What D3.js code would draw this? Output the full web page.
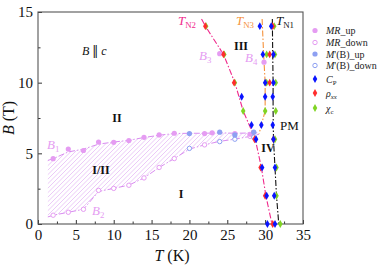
<!DOCTYPE html>
<html>
<head>
<meta charset="utf-8">
<script src="https://cdn.jsdelivr.net/npm/d3@7"></script>
<style>
  body { margin: 0; background: #fff; }
  text { font-family: "Liberation Serif", "Times New Roman", serif; }
</style>
</head>
<body>
<svg id="chart" width="381" height="266"></svg>
<script>
// ---- data ----
const mrUpT = [2, 4, 6, 8, 10, 12, 14, 16, 18, 22, 23, 26, 28, 24, 29.85];
const mrUpB = [4.62, 5.3, 5.2, 5.8, 5.78, 5.9, 6.13, 6.3, 6.42, 6.4, 6.45, 6.4, 6.35, 12.05, 11.45];
const mrDownT = [2, 4, 6, 8, 10, 12, 14, 16, 18, 22, 28];
const mrDownB = [0.62, 0.83, 1.04, 2.38, 2.52, 2.74, 3.26, 4.0, 4.63, 5.6, 6.2];
const mUpT = [20, 24, 26, 28.5];
const mUpB = [6.4, 6.5, 6.3, 6.5];
const mDownT = [20, 24, 26, 28.5];
const mDownB = [5.35, 5.83, 6.0, 6.15];
const cpT = [26.9, 28.2, 28.8, 29.6, 30.2, 30.3, 29.3, 29.7, 30.0, 30.0, 29.5, 30.8, 31.1, 31.1, 31.0, 31.0, 31.1, 31.3, 31.2, 31.3];
const cpB = [9, 7, 6, 4, 2, 0, 14, 12, 10, 9, 7, 14, 12, 10, 9, 7, 6, 4, 2, 0];
const rhoT = [22.1, 24.5, 25.9, 28.6, 29.4, 30.0, 31.0, 30.6, 30.6, 31.0, 31.1];
const rhoB = [14, 12, 10, 6, 4, 2, 0, 12, 10, 14, 6];
const chiT = [22.2, 24.6, 26.0, 27.1, 30.2, 30.2, 30.0, 31.3, 31.4, 31.4, 31.3, 31.5, 31.5, 32.0, 31.2];
const chiB = [14, 12, 10, 8, 12, 10, 8, 12, 10, 8, 6, 4, 2, 0, 14];

// phase boundaries
const b1T = [1.3, 2, 4, 6, 8, 10, 12, 14, 16, 18, 20, 22, 24, 26, 29.2];
const b1B = [4.5, 4.62, 5.1, 5.3, 5.65, 5.8, 5.92, 6.12, 6.28, 6.4, 6.42, 6.42, 6.45, 6.42, 6.45];
const b2T = [1.3, 2, 4, 6, 8, 10, 12, 14, 16, 18, 20, 22, 24, 26, 28, 29.2];
const b2B = [0.5, 0.62, 0.83, 1.04, 2.3, 2.52, 2.75, 3.26, 4.0, 4.63, 5.3, 5.6, 5.85, 6.0, 6.2, 6.35];
const tn2T = [21.6, 22.1, 24.5, 26.0, 27.1, 28.7, 29.5, 30.1, 30.9];
const tn2B = [14.5, 14, 12, 10, 8, 6, 4, 2, 0];
const tn3T = [29.6, 29.8, 30.0, 30.0, 29.2];
const tn3B = [14.5, 12, 10, 8, 6.4];
const tn1T = [30.95, 31.0, 31.05, 31.05, 31.1, 31.3, 31.5, 31.8];
const tn1B = [14.5, 12, 10, 8, 6, 4, 2, 0];

const xTicks = [0, 5, 10, 15, 20, 25, 30, 35];
const yTicks = [0, 5, 10, 15];

const violet = "#e59cf2", lightBlue = "#8ea0f2", cpCol = "#0a14ff",
      rhoCol = "#ff2d2d", chiCol = "#80d424", tn2Col = "#f02a8c", tn3Col = "#f5923c";

const svg = d3.select("#chart");
const x = d3.scaleLinear().domain([0, 35]).range([38, 303]);
const y = d3.scaleLinear().domain([0, 15]).range([224, 12]);
const pts = (ts, bs) => ts.map((t, i) => [t, bs[i]]);
const line = d3.line().x(d => x(d[0])).y(d => y(d[1]));

// hatched I/II region: diagonal lines clipped to the area between B1 and B2
const area = pts(b1T, b1B).concat(pts(b2T, b2B).reverse());
svg.append("defs").append("clipPath").attr("id", "hclip")
  .append("path").attr("d", line(area) + "Z");
const hatch = svg.append("g").attr("clip-path", "url(#hclip)");
d3.range(-60, 300, 4.5).forEach(s => {
  hatch.append("line").attr("x1", s).attr("y1", 224).attr("x2", s + 100).attr("y2", 124)
    .attr("stroke", "#e6bdf5").attr("stroke-width", 0.8);
});

// axes (inward ticks)
svg.append("g").attr("transform", "translate(0,224)")
  .call(d3.axisBottom(x).tickValues(xTicks).tickSize(-4).tickPadding(5));
svg.append("g").attr("transform", "translate(0,224)")
  .call(d3.axisBottom(x).tickValues(d3.range(2.5, 35, 5)).tickSize(-2.5).tickFormat(""));
svg.append("g").attr("transform", "translate(38,0)")
  .call(d3.axisLeft(y).tickValues(yTicks).tickSize(-4).tickPadding(5));
svg.append("g").attr("transform", "translate(38,0)")
  .call(d3.axisLeft(y).tickValues([2.5, 7.5, 12.5]).tickSize(-2.5).tickFormat(""));
svg.selectAll(".domain").remove();
svg.selectAll(".tick line").attr("stroke", "#333");
svg.selectAll(".tick text").attr("font-size", 15).attr("fill", "#111")
  .attr("font-family", "Liberation Serif");
svg.append("rect").attr("x", 38).attr("y", 12).attr("width", 265).attr("height", 212)
  .attr("fill", "none").attr("stroke", "#555").attr("stroke-width", 1.1);

// boundary lines
const dashDot = "6,2,1.5,2";
function drawLine(ts, bs, col, w) {
  svg.append("path").attr("d", line(pts(ts, bs))).attr("fill", "none")
    .attr("stroke", col).attr("stroke-width", w).attr("stroke-dasharray", dashDot);
}
drawLine(b1T, b1B, "#d98cf0", 1);
drawLine(b2T, b2B, "#d98cf0", 1);
drawLine(tn2T, tn2B, tn2Col, 1.1);
drawLine(tn3T, tn3B, tn3Col, 1.1);
drawLine(tn1T, tn1B, "#111", 1.1);

// markers
function circles(ts, bs, col, filled) {
  svg.append("g").selectAll("circle").data(pts(ts, bs)).join("circle")
    .attr("cx", d => x(d[0])).attr("cy", d => y(d[1])).attr("r", filled ? 2.6 : 2.2)
    .attr("fill", filled ? col : "#fff").attr("stroke", col).attr("stroke-width", filled ? 0 : 1);
}
const diamond = d3.symbol().type(d3.symbolDiamond).size(18);
function diamonds(ts, bs, col) {
  svg.append("g").selectAll("path").data(pts(ts, bs)).join("path")
    .attr("d", diamond).attr("fill", col)
    .attr("transform", d => `translate(${x(d[0])},${y(d[1])})`);
}
circles(mrDownT, mrDownB, violet, false);
circles(mrUpT, mrUpB, violet, true);
circles(mDownT, mDownB, lightBlue, false);
circles(mUpT, mUpB, lightBlue, true);
diamonds(chiT, chiB, chiCol);
diamonds(rhoT, rhoB, rhoCol);
diamonds(cpT, cpB, cpCol);

// rich text helper: parts = [[text, {italic, sub, family}]]
function rich(xp, yp, parts, size, col, opts = {}) {
  const t = svg.append("text").attr("x", xp).attr("y", yp).attr("font-size", size)
    .attr("fill", col).attr("text-anchor", opts.anchor || "start");
  if (opts.bold) t.attr("font-weight", "bold");
  parts.forEach(([s, o = {}]) => {
    const ts = t.append("tspan").text(s);
    if (o.italic) ts.attr("font-style", "italic");
    if (o.family) ts.attr("font-family", o.family);
    if (o.sub) ts.attr("font-size", size * 0.68).attr("dy", size * 0.25);
  });
  return t;
}

// axis titles
rich(172, 261, [["T", { italic: true }], [" (K)"]], 16, "#111", { anchor: "middle" });
rich(0, 0, [["B", { italic: true }], [" (T)"]], 16, "#111", { anchor: "middle" })
  .attr("transform", "translate(14,118) rotate(-90)");

// annotations
rich(82, 55, [["B", { italic: true }], [" "], ["\u2016", { family: "DejaVu Serif" }], [" "], ["c", { italic: true }]], 12, "#111");
rich(117, 122, [["II"]], 12, "#111", { bold: true, anchor: "middle" });
rich(101, 174, [["I/II"]], 12, "#111", { bold: true, anchor: "middle" });
rich(181, 198, [["I"]], 12, "#111", { bold: true, anchor: "middle" });
rich(241, 50, [["III"]], 12, "#111", { bold: true, anchor: "middle" });
rich(268, 152, [["IV"]], 12, "#111", { bold: true, anchor: "middle" });
rich(280, 130, [["PM"]], 13, "#111");
rich(47, 149, [["B", { italic: true }], ["1", { sub: true }]], 13, violet);
rich(92, 215, [["B", { italic: true }], ["2", { sub: true }]], 13, violet);
rich(199, 60, [["B", { italic: true }], ["3", { sub: true }]], 13, violet);
rich(245, 62, [["B", { italic: true }], ["4", { sub: true }]], 13, violet);
rich(178, 25, [["T", { italic: true }], ["N2", { sub: true }]], 13, tn2Col);
rich(236, 25, [["T", { italic: true }], ["N3", { sub: true }]], 13, tn3Col);
rich(276, 25, [["T", { italic: true }], ["N1", { sub: true }]], 13, "#111");

// legend
const legendRows = [
  { y: 30.5, kind: "cf", col: violet, parts: [["MR", { italic: true }], ["_up"]] },
  { y: 42.5, kind: "co", col: violet, parts: [["MR", { italic: true }], ["_down"]] },
  { y: 54, kind: "cf", col: lightBlue, parts: [["M", { italic: true }], ["'(B)_up"]] },
  { y: 65.5, kind: "co", col: lightBlue, parts: [["M", { italic: true }], ["'(B)_down"]] },
  { y: 79, kind: "d", col: cpCol, parts: [["C", { italic: true }], ["P", { sub: true }]] },
  { y: 93, kind: "d", col: rhoCol, parts: [["\u03c1", { italic: true }], ["xx", { sub: true, italic: true }]] },
  { y: 108, kind: "d", col: chiCol, parts: [["\u03c7", { italic: true }], ["c", { sub: true }]] }
];
legendRows.forEach(r => {
  if (r.kind === "d") {
    svg.append("path").attr("d", diamond).attr("fill", r.col)
      .attr("transform", `translate(315,${r.y})`);
  } else {
    svg.append("circle").attr("cx", 315).attr("cy", r.y).attr("r", r.kind === "cf" ? 2.6 : 2.2)
      .attr("fill", r.kind === "cf" ? r.col : "#fff").attr("stroke", r.col)
      .attr("stroke-width", r.kind === "cf" ? 0 : 1);
  }
  rich(326, r.y + 3.5, r.parts, 10, "#222");
});
</script>
</body>
</html>
